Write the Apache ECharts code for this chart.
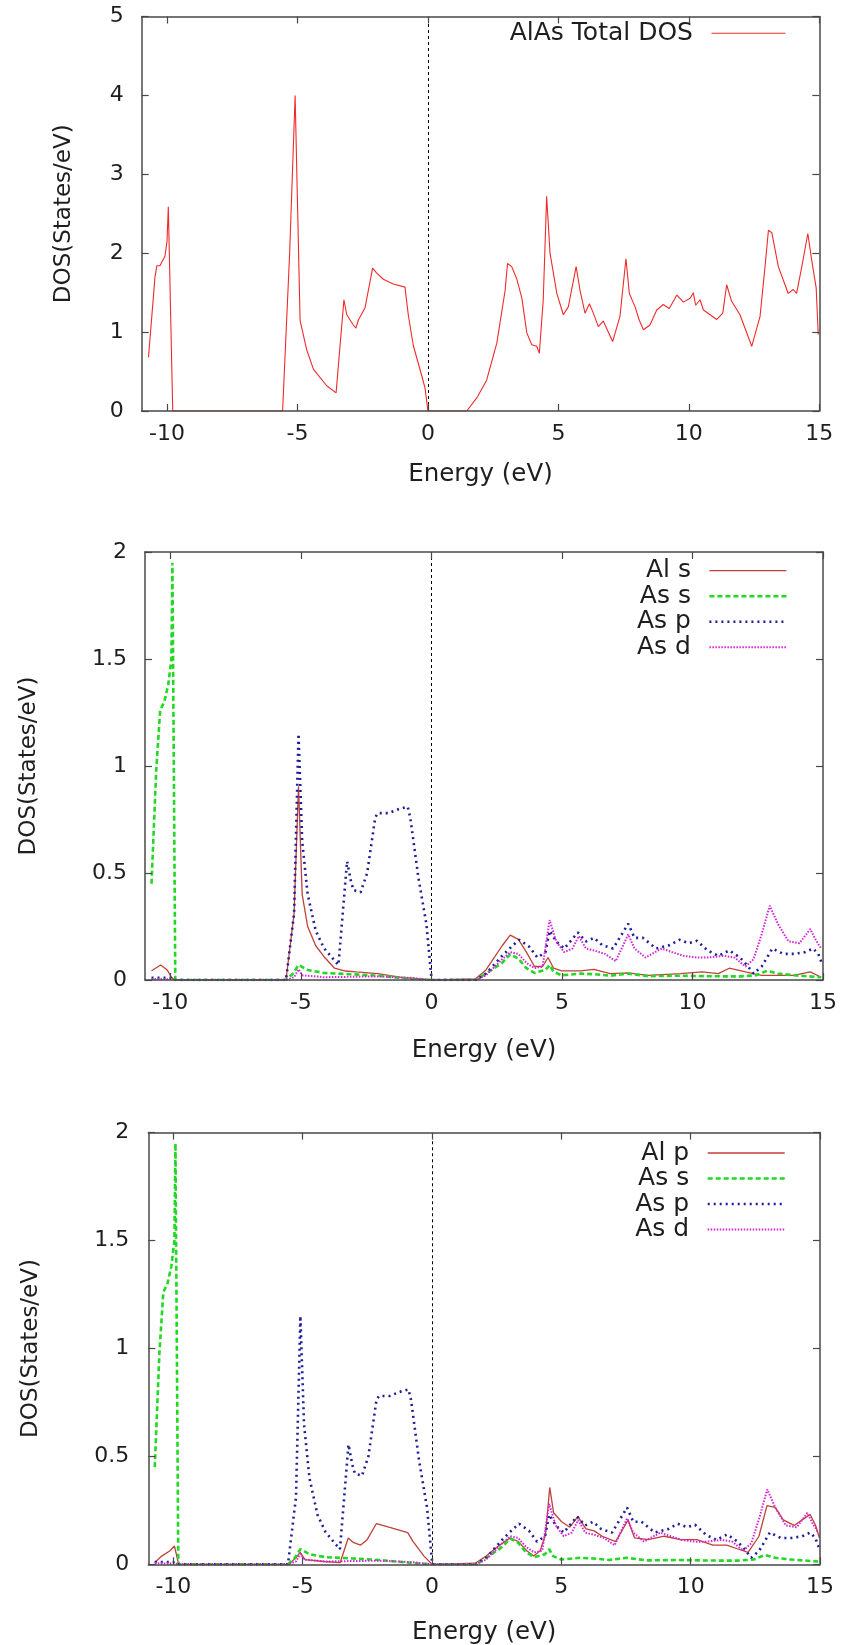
<!DOCTYPE html>
<html>
<head>
<meta charset="utf-8">
<title>AlAs density of states</title>
<script src="https://cdn.jsdelivr.net/npm/echarts@6/dist/echarts.min.js"></script>
<style>
  html, body { margin: 0; padding: 0; background: #ffffff; }
  #chart { width: 847px; height: 1645px; }
</style>
</head>
<body>
<div id="chart"></div>
<script>
// Energy axis tick labels (eV), shared by all three panels
const energyTicks = [-10, -5, 0, 5, 10, 15];

// Total DOS of AlAs: [energy (eV), DOS (states/eV)]
const totalDos = [
  [-10.71, 0.68], [-10.46, 1.70], [-10.39, 1.84], [-10.27, 1.84], [-10.08, 1.96], [-10.0, 2.15],
  [-9.95, 2.59], [-9.78, 0], [-5.57, 0], [-5.30, 2.0], [-5.09, 4.0], [-4.90, 1.15], [-4.65, 0.78],
  [-4.39, 0.53], [-3.88, 0.32], [-3.52, 0.23], [-3.22, 1.41], [-3.11, 1.22], [-2.86, 1.09],
  [-2.76, 1.05], [-2.67, 1.15], [-2.41, 1.31], [-2.12, 1.81], [-1.97, 1.75], [-1.71, 1.67],
  [-1.33, 1.61], [-0.88, 1.57], [-0.75, 1.21], [-0.56, 0.83], [-0.24, 0.45], [-0.11, 0.29],
  [0, 0], [1.49, 0], [1.90, 0.18], [2.25, 0.39], [2.64, 0.86], [2.96, 1.53], [3.05, 1.87],
  [3.21, 1.83], [3.40, 1.68], [3.60, 1.43], [3.79, 0.99], [3.98, 0.84], [4.17, 0.82], [4.27, 0.73],
  [4.42, 1.41], [4.55, 2.72], [4.68, 2.0], [4.94, 1.49], [5.19, 1.22], [5.38, 1.32], [5.68, 1.83],
  [5.83, 1.53], [6.02, 1.24], [6.19, 1.36], [6.34, 1.24], [6.53, 1.07], [6.72, 1.14], [7.08, 0.88],
  [7.36, 1.2], [7.59, 1.93], [7.72, 1.49], [7.94, 1.32], [8.10, 1.15], [8.26, 1.03], [8.51, 1.09],
  [8.77, 1.28], [9.02, 1.35], [9.25, 1.30], [9.54, 1.47], [9.79, 1.38], [10.05, 1.43], [10.17, 1.5],
  [10.26, 1.34], [10.43, 1.41], [10.56, 1.28], [11.07, 1.16], [11.30, 1.24], [11.45, 1.6],
  [11.64, 1.39], [11.96, 1.22], [12.41, 0.82], [12.73, 1.2], [12.92, 1.83], [13.05, 2.29],
  [13.18, 2.26], [13.43, 1.83], [13.81, 1.49], [14.0, 1.54], [14.13, 1.49], [14.33, 1.83],
  [14.56, 2.25], [14.71, 1.91], [14.88, 1.56], [14.96, 0.97]
];

// Projected DOS: Al s
const alS = [
  [-10.72, 0.043], [-10.37, 0.07], [-10.12, 0.047], [-9.96, 0.013], [-9.85, 0], [-5.57, 0],
  [-5.26, 0.31], [-5.09, 0.905], [-4.95, 0.40], [-4.74, 0.25], [-4.43, 0.16], [-4.12, 0.11],
  [-3.71, 0.055], [-3.29, 0.042], [-2.88, 0.038], [-2.05, 0.03], [-1.22, 0.013], [0, 0],
  [1.68, 0.005], [2.09, 0.047], [2.71, 0.16], [3.02, 0.21], [3.33, 0.19], [3.64, 0.13],
  [3.95, 0.063], [4.26, 0.063], [4.47, 0.105], [4.68, 0.055], [4.99, 0.043], [5.71, 0.043],
  [6.23, 0.05], [6.85, 0.03], [7.52, 0.033], [8.3, 0.022], [9.54, 0.03], [10.37, 0.038],
  [10.99, 0.03], [11.41, 0.055], [12.03, 0.038], [12.65, 0.022], [13.27, 0.022], [13.89, 0.022],
  [14.51, 0.038], [14.93, 0.013]
];

// Projected DOS: Al p
const alP = [
  [-10.72, 0.008], [-10.45, 0.038], [-10.13, 0.063], [-9.96, 0.085], [-9.82, 0.013], [-9.75, 0],
  [-5.54, 0], [-5.26, 0.03], [-5.10, 0.055], [-4.91, 0.022], [-4.18, 0.013], [-3.55, 0.008],
  [-3.24, 0.122], [-3.03, 0.10], [-2.76, 0.089], [-2.51, 0.114], [-2.15, 0.189], [-1.67, 0.172],
  [-0.94, 0.147], [-0.73, 0.105], [-0.31, 0.038], [0, 0], [1.67, 0.005], [2.09, 0.038],
  [2.61, 0.089], [3.03, 0.122], [3.34, 0.105], [3.66, 0.063], [3.93, 0.038], [4.18, 0.063],
  [4.39, 0.139], [4.55, 0.356], [4.70, 0.239], [5.01, 0.197], [5.33, 0.172], [5.64, 0.222],
  [5.95, 0.164], [6.27, 0.155], [6.58, 0.13], [7.10, 0.105], [7.58, 0.206], [7.83, 0.122],
  [8.36, 0.114], [8.98, 0.13], [9.61, 0.114], [10.24, 0.114], [10.86, 0.089], [11.39, 0.089],
  [11.80, 0.072], [12.22, 0.055], [12.64, 0.13], [12.95, 0.272], [13.27, 0.264], [13.58, 0.206],
  [14.0, 0.18], [14.41, 0.214], [14.62, 0.231], [14.83, 0.18], [14.98, 0.122]
];

// Projected DOS: As s
const asS = [
  [-10.72, 0.45], [-10.54, 0.98], [-10.39, 1.26], [-10.23, 1.30], [-10.08, 1.38], [-9.96, 1.50],
  [-9.92, 1.95], [-9.81, 0], [-5.57, 0], [-5.30, 0.03], [-5.09, 0.07], [-4.74, 0.047],
  [-4.12, 0.033], [-3.08, 0.027], [-2.0, 0.02], [-0.8, 0.006], [0, 0], [1.7, 0], [2.09, 0.03],
  [2.71, 0.08], [3.02, 0.12], [3.33, 0.10], [3.64, 0.055], [3.95, 0.033], [4.37, 0.047],
  [4.53, 0.07], [4.68, 0.038], [4.99, 0.022], [5.71, 0.03], [6.23, 0.027], [6.85, 0.02],
  [7.52, 0.03], [8.3, 0.018], [9.5, 0.02], [10.5, 0.018], [11.2, 0.017], [11.82, 0.017],
  [12.44, 0.022], [12.86, 0.043], [13.27, 0.03], [13.89, 0.022], [14.93, 0.013]
];

// Projected DOS: As p
const asP = [
  [-10.72, 0.01], [-10.0, 0.01], [-9.9, 0], [-5.57, 0], [-5.26, 0.31], [-5.09, 1.15],
  [-4.95, 0.65], [-4.74, 0.40], [-4.43, 0.23], [-4.12, 0.15], [-3.81, 0.105], [-3.56, 0.07],
  [-3.23, 0.555], [-3.08, 0.46], [-2.98, 0.42], [-2.71, 0.41], [-2.46, 0.50], [-2.15, 0.76],
  [-2.05, 0.78], [-1.64, 0.78], [-1.22, 0.80], [-0.91, 0.81], [-0.81, 0.76], [-0.50, 0.48],
  [-0.19, 0.26], [0, 0.013], [0.05, 0], [1.7, 0], [2.09, 0.03], [2.71, 0.113], [3.13, 0.163],
  [3.37, 0.188], [3.75, 0.155], [4.06, 0.105], [4.37, 0.13], [4.53, 0.23], [4.78, 0.18],
  [5.09, 0.147], [5.61, 0.222], [5.92, 0.18], [6.23, 0.197], [6.54, 0.163], [6.96, 0.147],
  [7.54, 0.263], [7.78, 0.197], [8.1, 0.197], [8.61, 0.147], [9.13, 0.163], [9.5, 0.188],
  [9.86, 0.172], [10.17, 0.183], [10.58, 0.138], [10.99, 0.113], [11.41, 0.138], [11.82, 0.105],
  [12.13, 0.063], [12.34, 0.03], [12.65, 0.063], [13.06, 0.147], [13.48, 0.122], [13.89, 0.122],
  [14.31, 0.13], [14.62, 0.147], [14.82, 0.122], [14.95, 0.08]
];

// Projected DOS: As d
const asD = [
  [-10.72, 0.005], [-9.9, 0.003], [-9.8, 0], [-5.57, 0], [-5.26, 0.013], [-5.09, 0.05],
  [-4.95, 0.022], [-4.12, 0.013], [-2.05, 0.017], [-0.8, 0.01], [0, 0], [1.7, 0], [2.09, 0.022],
  [2.71, 0.097], [3.02, 0.13], [3.33, 0.122], [3.64, 0.08], [3.95, 0.055], [4.26, 0.063],
  [4.53, 0.28], [4.78, 0.18], [5.09, 0.13], [5.40, 0.147], [5.65, 0.205], [5.92, 0.147],
  [6.23, 0.138], [6.65, 0.122], [7.06, 0.088], [7.54, 0.213], [7.78, 0.147], [8.2, 0.105],
  [8.82, 0.147], [9.23, 0.13], [9.65, 0.113], [10.17, 0.105], [10.58, 0.105], [11.2, 0.113],
  [11.61, 0.105], [12.03, 0.063], [12.34, 0.097], [12.65, 0.213], [12.96, 0.347], [13.27, 0.263],
  [13.68, 0.18], [14.1, 0.172], [14.51, 0.238], [14.72, 0.188], [14.93, 0.147]
];

// ---- styling ----
const FONT = 'DejaVu Sans';
const FRAME = '#484848';
const TEXT = '#1e1e1e';

const lineStyles = {
  total: { color: '#ee2a2a', width: 1.1, type: 'solid' },
  al:    { color: '#c0403a', width: 1.3, type: 'solid' },
  asS:   { color: '#22d822', width: 2.6, type: [5, 3] },
  asP:   { color: '#1e1e98', width: 2.6, type: [2, 4] },
  asD:   { color: '#d424d4', width: 2.0, type: [1.5, 1.5] }
};

// Panel geometry and contents
const panels = [
  {
    grid: { left: 141.7, right: 27.7, top: 16.5, height: 394.5 },
    yMax: 5, yStep: 1, yLabelMargin: 18, yNameGap: 66, xNameGap: 51,
    legend: { right: 61, top: 20.8, itemWidth: 74 },
    series: [['AlAs Total DOS', totalDos, 'total']]
  },
  {
    grid: { left: 145, right: 24, top: 552, height: 428 },
    yMax: 2, yStep: 0.5, yLabelMargin: 18, yNameGap: 104, xNameGap: 58,
    legend: { right: 59.3, top: 558.2, itemWidth: 77 },
    series: [['Al s', alS, 'al'], ['As s', asS, 'asS'], ['As p', asP, 'asP'], ['As d', asD, 'asD']]
  },
  {
    grid: { left: 148.3, right: 27, top: 1132.6, height: 431.7 },
    yMax: 2, yStep: 0.5, yLabelMargin: 19, yNameGap: 106, xNameGap: 56,
    legend: { right: 61, top: 1140.5, itemWidth: 77 },
    series: [['Al p', alP, 'al'], ['As s', asS, 'asS'], ['As p', asP, 'asP'], ['As d', asD, 'asD']]
  }
];

const grids = [], xAxes = [], yAxes = [], series = [], legends = [];

const frameLine = { show: true, onZero: false, lineStyle: { color: FRAME, width: 1.5 } };
const innerTick = { show: true, inside: true, length: 7, lineStyle: { color: FRAME, width: 1.2 } };

panels.forEach((p, i) => {
  grids.push(Object.assign({ containLabel: false, outerBoundsMode: 'none' }, p.grid));

  // bottom energy axis with labels, top mirror with ticks only
  const xBase = { type: 'value', gridIndex: i, min: -10.97, max: 15, z: 10,
                  splitLine: { show: false }, axisLine: frameLine };
  xAxes.push(Object.assign({}, xBase, {
    position: 'bottom',
    name: 'Energy (eV)', nameLocation: 'middle', nameGap: p.xNameGap,
    nameTextStyle: { fontFamily: FONT, fontSize: 24.5, color: TEXT },
    axisTick: Object.assign({ customValues: energyTicks }, innerTick),
    axisLabel: { customValues: energyTicks, margin: 12, fontFamily: FONT, fontSize: 22, color: TEXT }
  }));
  xAxes.push(Object.assign({}, xBase, {
    position: 'top',
    axisTick: Object.assign({ customValues: energyTicks }, innerTick),
    axisLabel: { show: false }
  }));

  // left DOS axis with labels, right mirror with ticks only
  const yBase = { type: 'value', gridIndex: i, min: 0, max: p.yMax, interval: p.yStep, z: 10,
                  splitLine: { show: false }, axisLine: frameLine, axisTick: innerTick };
  yAxes.push(Object.assign({}, yBase, {
    position: 'left',
    name: 'DOS(States/eV)', nameLocation: 'middle', nameGap: p.yNameGap, nameRotate: 90,
    nameTextStyle: { fontFamily: FONT, fontSize: 23, color: TEXT },
    axisLabel: { margin: p.yLabelMargin, fontFamily: FONT, fontSize: 22, color: TEXT }
  }));
  yAxes.push(Object.assign({}, yBase, { position: 'right', axisLabel: { show: false } }));

  p.series.forEach(([name, data, styleKey], k) => {
    const ls = lineStyles[styleKey];
    const s = {
      type: 'line', name, data,
      xAxisIndex: 2 * i, yAxisIndex: 2 * i,
      symbol: 'none', silent: true, animation: false, clip: true,
      lineStyle: { color: ls.color, width: ls.width, type: ls.type },
      itemStyle: { color: ls.color },
      z: 3 + k
    };
    if (k === 0) {
      // Fermi level marker at 0 eV
      s.markLine = {
        silent: true, animation: false, symbol: ['none', 'none'],
        label: { show: false },
        lineStyle: { type: [3, 3], color: '#000', width: 1 },
        data: [{ xAxis: 0 }]
      };
    }
    series.push(s);
  });

  legends.push({
    orient: 'vertical', align: 'right', selectedMode: false,
    right: p.legend.right, top: p.legend.top, padding: 0,
    itemWidth: p.legend.itemWidth, itemHeight: 14, itemGap: 0.5,
    itemStyle: { opacity: 0 },
    textStyle: { fontFamily: FONT, fontSize: 25, color: TEXT, lineHeight: 25, padding: [0, 13.5, 0, 0] },
    data: p.series.map(([name, , styleKey]) => ({
      name, lineStyle: { width: lineStyles[styleKey].width }
    }))
  });
});

const chart = echarts.init(document.getElementById('chart'), null, { renderer: 'canvas' });
chart.setOption({
  backgroundColor: '#ffffff',
  animation: false,
  grid: grids,
  xAxis: xAxes,
  yAxis: yAxes,
  legend: legends,
  series: series
});
</script>
</body>
</html>
